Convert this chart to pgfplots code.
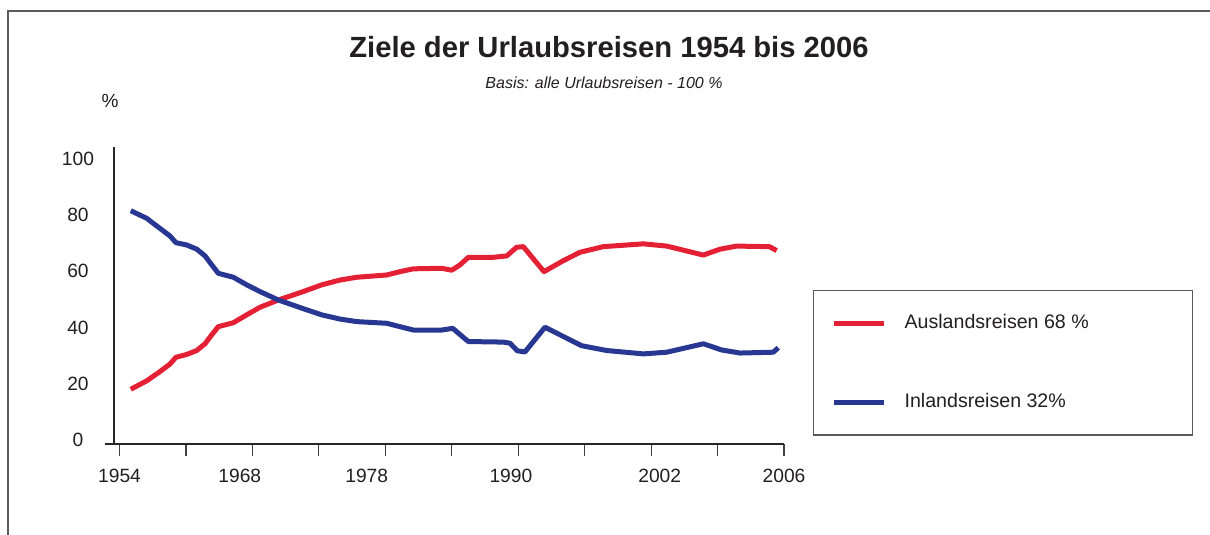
\documentclass[border=0pt]{standalone}
\usepackage{fontspec}
\setmainfont{Liberation Sans}
\usepackage{pgfplots}
\pgfplotsset{compat=1.18}
\definecolor{ausred}{RGB}{228,32,52}
\definecolor{inblue}{RGB}{40,56,146}
\definecolor{framegray}{RGB}{90,90,90}
\definecolor{txt}{RGB}{35,31,32}
\begin{document}
\begin{tikzpicture}
\path[use as bounding box] (0,0) rectangle (605bp,267.5bp);
\draw[framegray, line width=0.7bp] (4bp,0) -- (4bp,262bp) -- (605bp,262bp);
\node[txt, font=\bfseries\fontsize{14.6bp}{17bp}\selectfont] at (304.5bp,244bp) {Ziele der Urlaubsreisen 1954 bis 2006};
\node[txt, font=\itshape\fontsize{8bp}{10bp}\selectfont] at (302bp,226bp) {Basis: alle Urlaubsreisen - 100 \%};
\node[txt, font=\fontsize{9.5bp}{11bp}\selectfont] at (55bp,217bp) {\%};
\draw[black!85, line width=1.2bp] (52.5bp,45.5bp) -- (57.5bp,45.5bp);
\begin{axis}[
  at={(57bp,45.5bp)}, anchor=south west,
  scale only axis, width=335bp, height=148.5bp,
  xmin=-0.083, xmax=10, ymin=-1.5, ymax=104.3,
  axis x line*=bottom, axis y line*=left,
  x axis line style={line width=1.2bp, black!85, -},
  y axis line style={line width=0.6bp, black!85, -},
  clip=false,
  xtick={0,1.81,3.72,5.89,8.13,10},
  xticklabels={1954,1968,1978,1990,2002,2006},
  minor xtick={0,1,...,10},
  ytick={0,20,...,100},
  major tick length=0pt,
  minor tick length=6bp,
  tick align=outside,
  minor tick style={line width=0.6bp, black!75},
  tick label style={txt, font=\fontsize{9.6bp}{11bp}\selectfont},
  /pgf/number format/assume math mode=true,
  xticklabel style={anchor=center, yshift=-16bp},
  yticklabel style={anchor=center, xshift=-18bp},
  legend cell align=left,
  legend image code/.code={\draw[#1, line width=2.5bp] (0bp,0bp) -- (25bp,0bp);},
  legend style={at={(1.0433,0.5185)}, anchor=north west, draw=framegray,
    line width=0.6bp, inner xsep=9bp, inner ysep=10bp, row sep=27bp, column sep=7bp,
    font=\fontsize{9.8bp}{12bp}\selectfont, text=txt, cells={anchor=west}},
]
\addplot[ausred, line width=2.5bp, line join=round] coordinates {
(0.169,18.0) (0.409,21.0) (0.609,24.3) (0.760,27.0) (0.850,29.4)
(1.011,30.4) (1.162,31.8) (1.287,34.2) (1.388,37.4) (1.487,40.3)
(1.713,41.7) (1.914,44.5) (2.114,47.2) (2.390,49.8) (2.766,52.8)
(3.043,55.2) (3.318,56.9) (3.570,57.9) (4.021,58.7) (4.221,59.9)
(4.421,60.9) (4.849,61.1) (4.999,60.4) (5.124,62.3) (5.249,65.0)
(5.625,65.0) (5.827,65.5) (5.977,68.6) (6.077,68.8) (6.388,59.9)
(6.679,63.8) (6.930,66.8) (7.281,68.8) (7.883,69.8) (8.235,69.0)
(8.786,65.8) (9.037,67.9) (9.288,69.0) (9.780,68.8) (9.890,67.4)
};
\addlegendentry{\makebox[133bp][l]{Auslandsreisen 68 \%}}
\addplot[inblue, line width=2.5bp, line join=round] coordinates {
(0.169,81.6) (0.409,78.9) (0.609,75.3) (0.760,72.6) (0.850,70.2)
(1.011,69.4) (1.162,67.9) (1.287,65.5) (1.388,62.3) (1.487,59.3)
(1.713,57.9) (1.914,55.2) (2.114,52.8) (2.390,49.8) (2.766,46.7)
(3.043,44.5) (3.318,43.0) (3.570,42.1) (4.021,41.5) (4.221,40.3)
(4.421,39.1) (4.849,39.1) (5.014,39.7) (5.249,35.0) (5.776,34.8)
(5.877,34.4) (5.986,31.7) (6.102,31.3) (6.403,40.1) (6.679,36.8)
(6.956,33.5) (7.332,31.8) (7.883,30.6) (8.235,31.2) (8.786,34.2)
(9.062,32.0) (9.338,30.9) (9.839,31.2) (9.914,32.8)
};
\addlegendentry{\makebox[133bp][l]{Inlandsreisen 32\%\rule[-4.5bp]{0pt}{0pt}}}
\end{axis}
\end{tikzpicture}
\end{document}
